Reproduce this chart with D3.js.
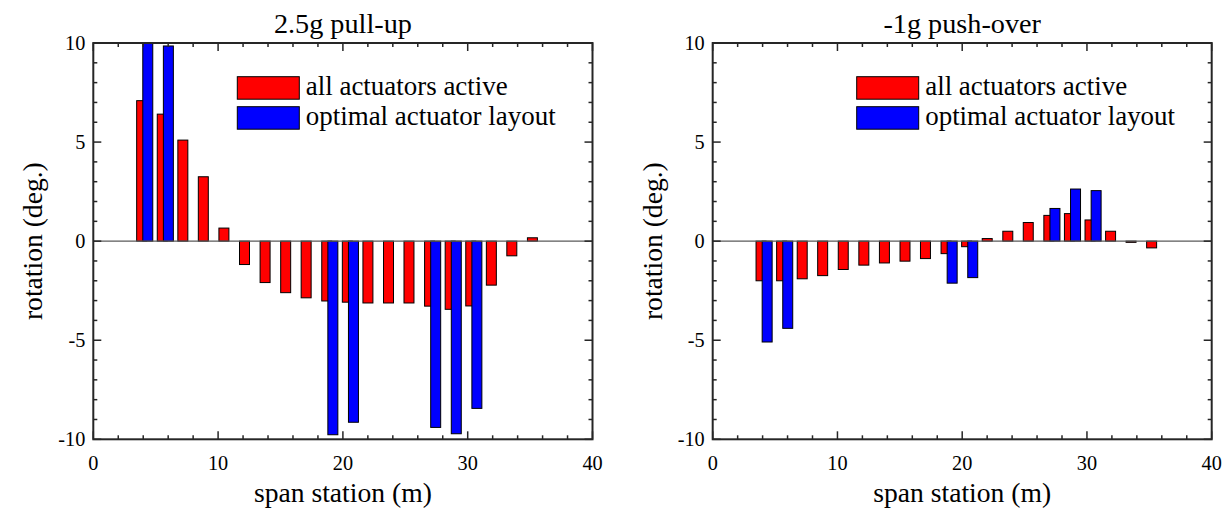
<!DOCTYPE html>
<html>
<head>
<meta charset="utf-8">
<script src="https://cdn.jsdelivr.net/npm/d3@7"></script>
<style>
  html, body { margin: 0; padding: 0; background: #fff; }
  svg { display: block; }
  text { font-family: "Liberation Serif", "DejaVu Serif", serif; fill: #000; }
</style>
</head>
<body>
<svg id="chart" width="1225" height="508"></svg>
<script>
// ---- data ----
const stations = [4.12, 5.77, 7.42, 9.06, 10.71, 12.36, 14.01, 15.66, 17.30, 18.95,
                  20.60, 22.25, 23.90, 25.54, 27.19, 28.84, 30.49, 32.14, 33.78, 35.43];

const pullupAll = [7.09, 6.41, 5.10, 3.25, 0.66, -1.18, -2.09, -2.60, -2.86, -3.02,
                   -3.08, -3.12, -3.12, -3.12, -3.28, -3.44, -3.27, -2.22, -0.74, 0.17];
const pullupOpt = [10.0, 9.85, null, null, null, null, null, null, null, -9.77,
                   -9.14, null, null, null, -9.40, -9.72, -8.44, null, null, null];

const pushAll = [-2.00, -2.00, -1.90, -1.74, -1.43, -1.21, -1.10, -1.01, -0.88, -0.63,
                 -0.28, 0.13, 0.50, 0.94, 1.30, 1.39, 1.07, 0.50, -0.06, -0.34];
const pushOpt = [-5.09, -4.40, null, null, null, null, null, null, null, -2.12,
                 -1.84, null, null, null, 1.65, 2.63, 2.55, null, null, null];

const titles = ["2.5g pull-up", "-1g push-over"];
const seriesNames = ["all actuators active", "optimal actuator layout"];
const seriesColors = ["#ff0000", "#0000ff"];
const xTicks = [0, 10, 20, 30, 40];
const xTickLabels = ["0", "10", "20", "30", "40"];
const yTicks = [-10, -5, 0, 5, 10];
const yTickLabels = ["-10", "-5", "0", "5", "10"];
const xLabel = "span station (m)";
const yLabel = "rotation (deg.)";

// ---- layout ----
const svg = d3.select("#chart");
svg.append("rect").attr("width", 1225).attr("height", 508).attr("fill", "#fff");

// pick font sizes so that reference strings match the widths seen in the target
function fitSize(str, targetW) {
  const t = svg.append("text").attr("font-size", 100).text(str);
  const w = t.node().getComputedTextLength();
  t.remove();
  return 100 * targetW / w;
}
const fsTitle = fitSize(titles[0], 138);
const fsLegend = fitSize(seriesNames[0], 202);
const fsTick = fitSize("-10", 27);
const fsLabel = fitSize(xLabel, 178);

const panels = [
  { left: 93.3, right: 592.5, all: pullupAll, opt: pullupOpt, title: titles[0] },
  { left: 712.7, right: 1211.7, all: pushAll, opt: pushOpt, title: titles[1] }
];
const plotTop = 43, plotBottom = 439.3;
const axisColor = "#262626";
const barW = 0.8, barOff = 0.245;

panels.forEach((p, pi) => {
  const x = d3.scaleLinear().domain([0, 40]).range([p.left, p.right]);
  const y = d3.scaleLinear().domain([-10, 10]).range([plotBottom, plotTop]);
  const g = svg.append("g");

  const clipId = "clip" + pi;
  svg.append("clipPath").attr("id", clipId)
    .append("rect").attr("x", p.left).attr("y", plotTop)
    .attr("width", p.right - p.left).attr("height", plotBottom - plotTop);

  const bars = g.append("g").attr("clip-path", `url(#${clipId})`);

  const drawSeries = (vals, off, color) => {
    const data = stations.map((s, i) => ({ s, v: vals[i] })).filter(d => d.v !== null);
    bars.selectAll(null).data(data).enter().append("rect")
      .attr("x", d => x(d.s + off - barW / 2))
      .attr("width", d => x(d.s + off + barW / 2) - x(d.s + off - barW / 2))
      .attr("y", d => y(Math.max(0, d.v)))
      .attr("height", d => Math.abs(y(d.v) - y(0)))
      .attr("fill", color)
      .attr("stroke", "#000")
      .attr("stroke-width", 1);
  };
  drawSeries(p.all, -barOff, seriesColors[0]);
  drawSeries(p.opt, barOff, seriesColors[1]);

  // baseline
  g.append("line")
    .attr("x1", p.left).attr("x2", p.right)
    .attr("y1", y(0)).attr("y2", y(0))
    .attr("stroke", "#5a5a5a").attr("stroke-width", 1.2);

  // box with inward major/minor ticks on all sides
  const minorX = d3.range(0, 41, 2);
  const minorY = d3.range(-10, 11, 1);
  const axG = g.append("g");
  const tickAttrs = sel => sel.attr("stroke", axisColor).attr("stroke-width", 1.5);
  minorX.forEach(v => {
    const len = v % 10 === 0 ? 8 : 4;
    axG.append("line").call(tickAttrs).attr("x1", x(v)).attr("x2", x(v)).attr("y1", plotBottom).attr("y2", plotBottom - len);
    axG.append("line").call(tickAttrs).attr("x1", x(v)).attr("x2", x(v)).attr("y1", plotTop).attr("y2", plotTop + len);
  });
  minorY.forEach(v => {
    const len = v % 5 === 0 ? 8 : 4;
    axG.append("line").call(tickAttrs).attr("x1", p.left).attr("x2", p.left + len).attr("y1", y(v)).attr("y2", y(v));
    axG.append("line").call(tickAttrs).attr("x1", p.right).attr("x2", p.right - len).attr("y1", y(v)).attr("y2", y(v));
  });
  axG.append("rect")
    .attr("x", p.left).attr("y", plotTop)
    .attr("width", p.right - p.left).attr("height", plotBottom - plotTop)
    .attr("fill", "none").attr("stroke", axisColor).attr("stroke-width", 2);

  // tick labels
  g.selectAll(null).data(xTicks).enter().append("text")
    .attr("x", d => x(d)).attr("y", 470)
    .attr("text-anchor", "middle").attr("font-size", fsTick)
    .text((d, i) => xTickLabels[i]);
  g.selectAll(null).data(yTicks).enter().append("text")
    .attr("x", p.left - 8).attr("y", d => y(d) + 7)
    .attr("text-anchor", "end").attr("font-size", fsTick)
    .text((d, i) => yTickLabels[i]);

  // axis labels
  g.append("text")
    .attr("x", (p.left + p.right) / 2).attr("y", 502)
    .attr("text-anchor", "middle").attr("font-size", fsLabel)
    .text(xLabel);
  g.append("text")
    .attr("transform", `translate(${p.left - 51},${(plotTop + plotBottom) / 2}) rotate(-90)`)
    .attr("text-anchor", "middle").attr("font-size", fsLabel)
    .text(yLabel);

  // title
  g.append("text")
    .attr("x", (p.left + p.right) / 2).attr("y", 33)
    .attr("text-anchor", "middle").attr("font-size", fsTitle)
    .text(p.title);

  // legend
  const lg = g.append("g");
  seriesNames.forEach((name, i) => {
    const ly = 76.7 + i * 30;
    lg.append("rect")
      .attr("x", p.left + 144).attr("y", ly)
      .attr("width", 62).attr("height", 22.5)
      .attr("fill", seriesColors[i]).attr("stroke", "#000").attr("stroke-width", 1);
    lg.append("text")
      .attr("x", p.left + 212.5).attr("y", ly + 18)
      .attr("font-size", fsLegend)
      .text(name);
  });
});
</script>
</body>
</html>
